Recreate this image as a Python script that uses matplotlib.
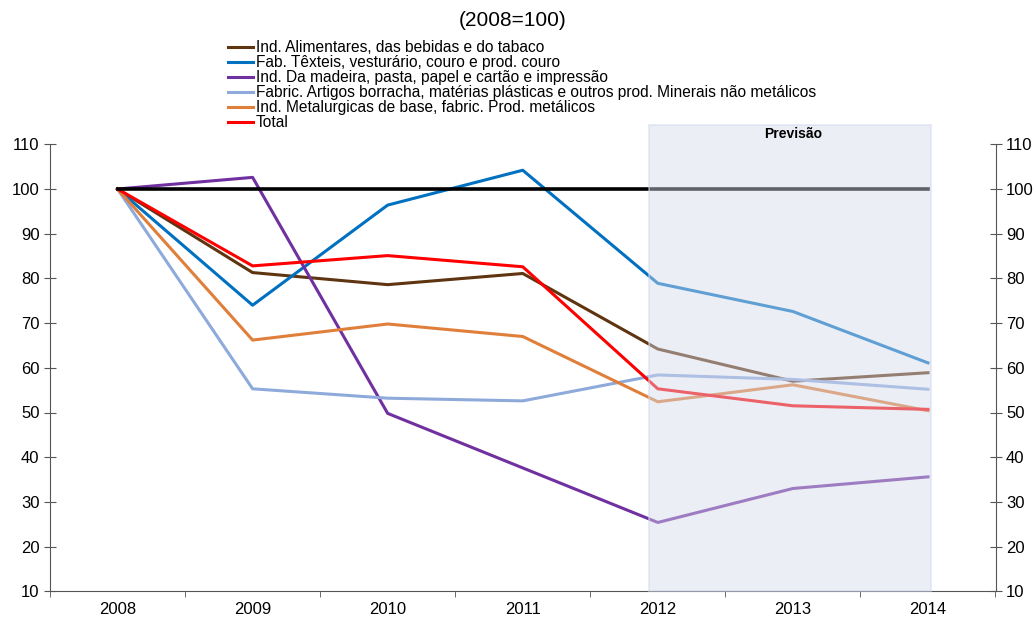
import matplotlib
matplotlib.use('Agg')
import matplotlib.pyplot as plt
from matplotlib.patches import Rectangle

plt.rcParams['font.family'] = ['Liberation Sans', 'DejaVu Sans']

# data (2008=100)
years = ['2008', '2009', '2010', '2011', '2012', '2013', '2014']
alimentares = [100, 81.3, 78.6, 81.1, 64.2, 57.0, 58.9]
texteis = [100, 74.0, 96.4, 104.2, 78.9, 72.6, 61.1]
madeira = [100, 102.6, 49.8, 37.6, 25.4, 33.0, 35.6]
borracha = [100, 55.3, 53.2, 52.6, 58.4, 57.4, 55.2]
metalurgicas = [100, 66.2, 69.8, 67.0, 52.4, 56.2, 50.4]
total = [100, 82.8, 85.1, 82.6, 55.3, 51.5, 50.7]
base = [100] * 7

labels = ['Ind. Alimentares, das bebidas e do tabaco',
          'Fab. Têxteis, vesturário, couro e prod. couro',
          'Ind. Da madeira, pasta, papel e cartão e impressão',
          'Fabric. Artigos borracha, matérias plásticas e outros prod. Minerais não metálicos',
          'Ind. Metalurgicas de base, fabric. Prod. metálicos',
          'Total']
series = [alimentares, texteis, madeira, borracha, metalurgicas, total]
colors = ['#5f3410', '#0070c0', '#7030a0', '#8eaadb', '#e07f3a', '#ff0000']

fig = plt.figure(figsize=(10.35, 6.17), dpi=100)
ax = fig.add_axes([50/1035, 1-591.3/617, 945.5/1035, 447/617])

x = range(len(years))
handles = []
for s, c, l in zip(series, colors, labels):
    h, = ax.plot(x, s, color=c, lw=2.2, label=l, zorder=2)
    handles.append(h)
ax.plot(x, base, color='black', lw=2.6, zorder=2.5)

# forecast shading over the lines
ax.add_patch(Rectangle((3.935, 10), 2.09, 104.3, facecolor=(0.835, 0.855, 0.92, 0.45),
                       edgecolor=(0.82, 0.86, 0.94, 0.6), lw=1.2, zorder=3, clip_on=False))
ax.text(5, 112.4, 'Previsão', ha='center', va='center', fontsize=10, fontweight='bold', zorder=4)

ax.set_xlim(-0.5, 6.5)
ax.set_ylim(10, 110)
ax.set_yticks(range(10, 111, 10))
ax.set_xticks(list(x))
ax.set_xticklabels(years)
ax.set_xticks([i + 0.5 for i in range(-1, 7)], minor=True)
ax.tick_params(axis='x', which='major', length=0, labelsize=12, pad=8)
ax.tick_params(axis='x', which='minor', length=4, direction='out', color='#555555')
ax.tick_params(axis='y', length=8, direction='inout', labelsize=12, color='#555555')

ax2 = ax.twinx()
ax2.set_ylim(10, 110)
ax2.set_yticks(range(10, 111, 10))
ax2.tick_params(axis='y', length=8, direction='inout', labelsize=12, color='#555555')

for a in (ax, ax2):
    a.spines['top'].set_visible(False)
    for sp in ('left', 'right', 'bottom'):
        a.spines[sp].set_color('#555555')
ax.spines['right'].set_visible(False)
ax2.spines['left'].set_visible(False)
ax2.spines['bottom'].set_visible(False)

fig.text(0.495, 1-21/617, '(2008=100)', ha='center', va='center', fontsize=15)
fig.legend(handles=handles, loc='upper left', bbox_to_anchor=(228/1035, 1-40/617),
           frameon=False, fontsize=11.2, handlelength=1.6, handletextpad=0.2,
           labelspacing=0.0, borderpad=0, borderaxespad=0)

fig.savefig('out.png')
